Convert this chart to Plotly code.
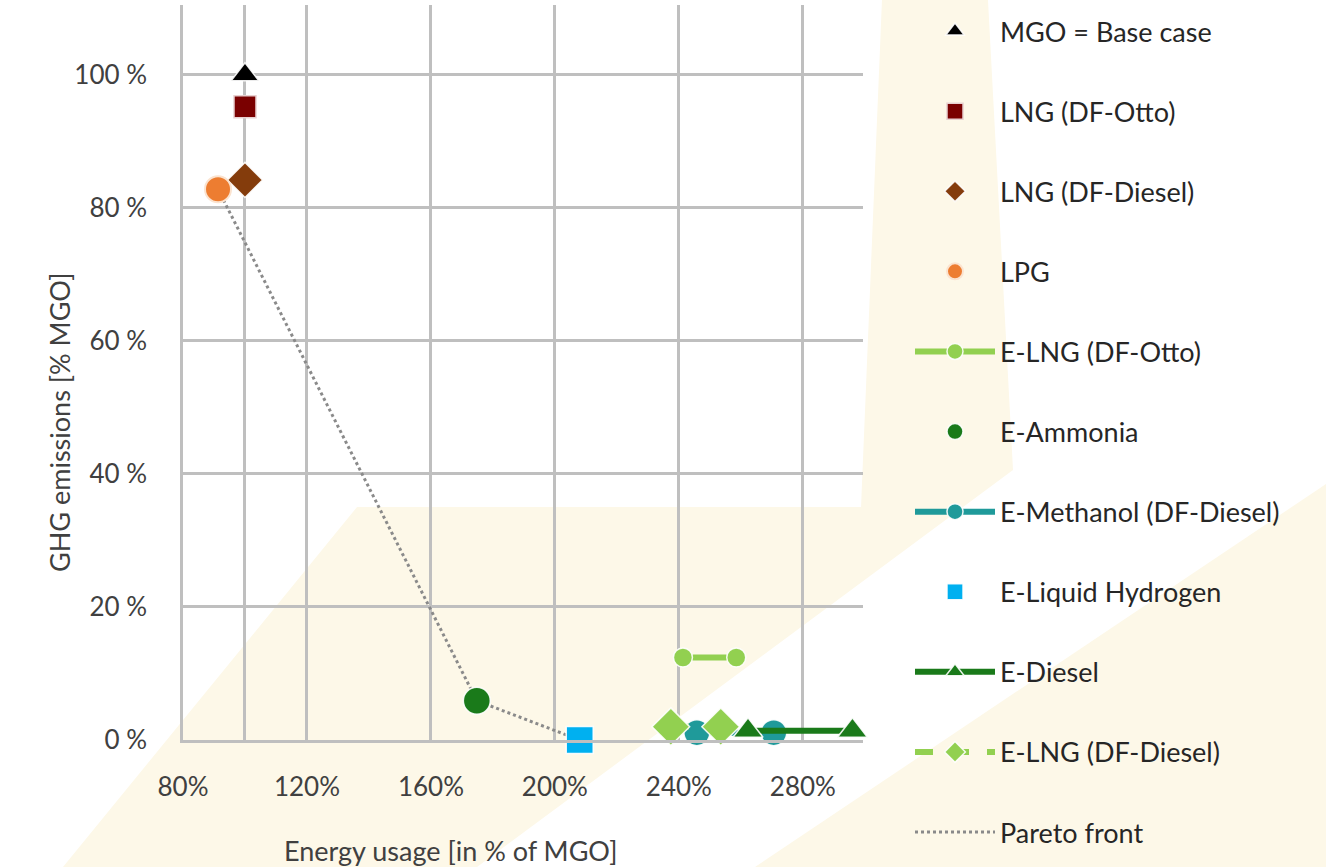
import plotly.graph_objects as go

# ---------------- data ----------------
mgo_x = [100.0]
mgo_y = [100.0]
lng_otto_x = [100.0]
lng_otto_y = [95.2]
lng_diesel_x = [100.0]
lng_diesel_y = [84.2]
lpg_x = [91.3]
lpg_y = [82.8]
elng_otto_x = [241.3, 258.5]
elng_otto_y = [12.4, 12.4]
eammonia_x = [174.8]
eammonia_y = [5.9]
emethanol_x = [245.8, 270.6]
emethanol_y = [1.1, 1.1]
elh2_x = [208.0]
elh2_y = [0.0]
ediesel_x = [262.3, 296.0]
ediesel_y = [1.4, 1.4]
elng_diesel_x = [237.4, 253.5]
elng_diesel_y = [2.0, 2.0]
pareto_x = [91.3, 174.8, 208.0]
pareto_y = [82.8, 5.9, 0.0]

x_tickvals = [80, 100, 120, 160, 200, 240, 280]
x_ticktext = ["80%", "", "120%", "160%", "200%", "240%", "280%"]
y_tickvals = [0, 20, 40, 60, 80, 100]
y_ticktext = ["0 %", "20 %", "40 %", "60 %", "80 %", "100 %"]

# ---------------- layout geometry ----------------
W, H = 1326, 867
L, R, T, B = 183, 863, 5, 740
FONT = "Lato"
GRID = "#BFBFBF"
CREAM = "#FDF8E8"


def pxx(x):
    return (x - L) / (R - L)


def pyy(y):
    return (B - y) / (B - T)


def poly(points):
    s = "M " + " L ".join(f"{pxx(x):.4f},{pyy(y):.4f}" for x, y in points) + " Z"
    return s


fig = go.Figure()

OUT = dict(color="rgba(255,255,255,0.9)", width=1.5)

fig.add_trace(go.Scatter(x=pareto_x, y=pareto_y, name="Pareto front", mode="lines",
                         line=dict(color="#8A8A8A", width=3, dash="dot"),
                         legendrank=11, legendgroup="k"))
fig.add_trace(go.Scatter(x=mgo_x, y=mgo_y, name="MGO = Base case", mode="markers",
                         marker=dict(symbol="triangle-up", size=24, color="#000000", line=OUT),
                         legendrank=1, legendgroup="a"))
fig.add_trace(go.Scatter(x=lng_otto_x, y=lng_otto_y, name="LNG (DF-Otto)", mode="markers",
                         marker=dict(symbol="square", size=22, color="#7A0000",
                                     line=dict(color="#E8D0D0", width=1.5)),
                         legendrank=2, legendgroup="b"))
fig.add_trace(go.Scatter(x=lng_diesel_x, y=lng_diesel_y, name="LNG (DF-Diesel)", mode="markers",
                         marker=dict(symbol="diamond", size=27, color="#843C0C", line=OUT),
                         legendrank=3, legendgroup="c"))
fig.add_trace(go.Scatter(x=lpg_x, y=lpg_y, name="LPG", mode="markers",
                         marker=dict(symbol="circle", size=26, color="#ED7D31",
                                     line=dict(color="#FBE3CF", width=2)),
                         legendrank=4, legendgroup="d"))
fig.add_trace(go.Scatter(x=elng_otto_x, y=elng_otto_y, name="E-LNG (DF-Otto)", mode="lines+markers",
                         line=dict(color="#92D050", width=6),
                         marker=dict(symbol="circle", size=19, color="#92D050", line=OUT),
                         legendrank=5, legendgroup="e"))
fig.add_trace(go.Scatter(x=eammonia_x, y=eammonia_y, name="E-Ammonia", mode="markers",
                         marker=dict(symbol="circle", size=27, color="#1A7A1A", line=OUT),
                         legendrank=6, legendgroup="f"))
fig.add_trace(go.Scatter(x=emethanol_x, y=emethanol_y, name="E-Methanol (DF-Diesel)", mode="lines+markers",
                         line=dict(color="#1F9A9A", width=6),
                         marker=dict(symbol="circle", size=26, color="#1F9A9A", line=OUT),
                         legendrank=7, legendgroup="g"))
fig.add_trace(go.Scatter(x=elh2_x, y=elh2_y, name="E-Liquid Hydrogen", mode="markers",
                         marker=dict(symbol="square", size=27, color="#00B0F0", line=OUT),
                         legendrank=8, legendgroup="h"))
fig.add_trace(go.Scatter(x=ediesel_x, y=ediesel_y, name="E-Diesel", mode="lines+markers",
                         line=dict(color="#1A7A1A", width=6),
                         marker=dict(symbol="triangle-up", size=26, color="#1A7A1A", line=OUT),
                         legendrank=9, legendgroup="i"))
fig.add_trace(go.Scatter(x=elng_diesel_x, y=elng_diesel_y, name="E-LNG (DF-Diesel)", mode="lines+markers",
                         line=dict(color="#92D050", width=6, dash="dash"),
                         marker=dict(symbol="diamond", size=29, color="#92D050", line=OUT),
                         legendrank=10, legendgroup="j"))

for tr in fig.data:
    tr.cliponaxis = False

shapes = [
    dict(type="path", xref="paper", yref="paper", layer="below", line=dict(width=0),
         fillcolor=CREAM,
         path=poly([(63, 867), (357, 507), (861, 507), (882, 0), (988, 0), (1013, 470), (477, 867)])),
    dict(type="path", xref="paper", yref="paper", layer="below", line=dict(width=0),
         fillcolor=CREAM,
         path=poly([(755, 867), (1326, 484), (1326, 867)])),
]

annotations = [
    dict(text="Energy usage [in % of MGO]", xref="paper", yref="paper",
         x=pxx(451), y=pyy(850), showarrow=False, xanchor="center", yanchor="middle",
         font=dict(family=FONT, size=27, color="#404040")),
    dict(text="GHG emissions [% MGO]", xref="paper", yref="paper",
         x=pxx(60), y=pyy(422), showarrow=False, xanchor="center", yanchor="middle",
         textangle=-90, font=dict(family=FONT, size=27, color="#404040")),
]

fig.update_layout(
    width=W, height=H,
    margin=dict(l=L, r=W - R, t=T, b=H - B, pad=0, autoexpand=False),
    paper_bgcolor="white",
    plot_bgcolor="rgba(0,0,0,0)",
    font=dict(family=FONT, color="#404040"),
    shapes=shapes,
    annotations=annotations,
    legend=dict(x=pxx(910), y=1 - 7 / H, xref="paper", yref="container",
                xanchor="left", yanchor="top", maxheight=2000,
                bgcolor="rgba(0,0,0,0)", itemwidth=80, tracegroupgap=42,
                font=dict(family=FONT, size=27, color="#262626")),
    xaxis=dict(range=[80, 299.4], tickvals=x_tickvals, ticktext=x_ticktext,
               showgrid=True, gridcolor=GRID, gridwidth=2.5,
               showline=True, linecolor=GRID, linewidth=2.5,
               zeroline=False, ticks="", ticklabelstandoff=22,
               tickfont=dict(family=FONT, size=26, color="#404040")),
    yaxis=dict(range=[0, 110.5], tickvals=y_tickvals, ticktext=y_ticktext,
               showgrid=True, gridcolor=GRID, gridwidth=2.5,
               showline=True, linecolor=GRID, linewidth=2.5,
               zeroline=False, ticks="", ticklabelstandoff=28,
               tickfont=dict(family=FONT, size=26, color="#404040")),
)

fig.write_html("out.html", config={"displayModeBar": False},
               post_script="document.body.style.margin='0';document.body.style.overflow='hidden';")
